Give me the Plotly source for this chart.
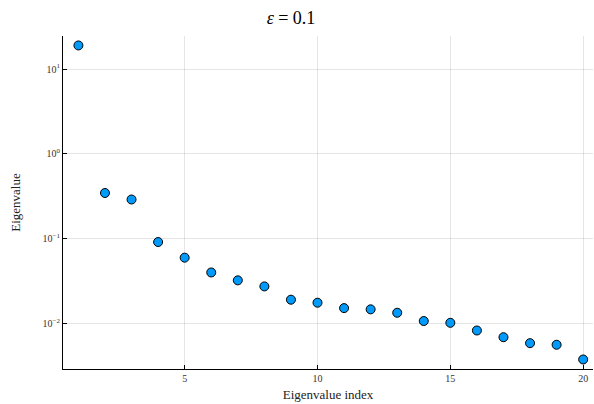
import plotly.graph_objects as go

idx = list(range(1, 21))
eigvals = [19.0, 0.346, 0.29, 0.0914, 0.0598, 0.0400, 0.0323, 0.0274, 0.0191, 0.0176,
           0.0152, 0.0147, 0.0134, 0.0107, 0.0102, 0.00828, 0.0069, 0.00587, 0.00562, 0.00377]
ytickvals = [0.01, 0.1, 1, 10]
yticktext = ["10<sup>−2</sup>", "10<sup>−1</sup>", "10<sup>0</sup>", "10<sup>1</sup>"]
xtickvals = [5, 10, 15, 20]

FONT = "Liberation Serif, DejaVu Serif, serif"

fig = go.Figure()
fig.add_trace(go.Scatter(
    x=idx, y=eigvals, mode="markers",
    marker=dict(size=9, color="#009AFA", line=dict(color="black", width=1)),
    showlegend=False, cliponaxis=False,
))

fig.update_layout(
    width=594, height=404,
    margin=dict(l=63, r=1, t=36, b=35),
    paper_bgcolor="white", plot_bgcolor="white",
    font=dict(family=FONT, color="#222"),
    title=dict(text="<i>ε</i> = 0.1", x=291/594, xref="container", xanchor="center",
               y=1 - 18/404, yref="container", yanchor="middle",
               font=dict(size=18, family="Liberation Serif", color="black")),
)
fig.update_xaxes(
    range=[0.42, 20.37], tickvals=xtickvals, ticks="inside", ticklen=4,
    tickcolor="black", showline=True, linecolor="black", linewidth=1,
    showgrid=True, gridcolor="rgba(0,0,0,0.1)", gridwidth=1, zeroline=False,
    tickfont=dict(size=10, family=FONT, color="#333"),
    title=dict(text="Eigenvalue index", font=dict(size=13, family=FONT, color="#222"), standoff=6),
)
fig.update_yaxes(
    type="log", range=[-2.536, 1.39], tickvals=ytickvals, ticktext=yticktext,
    ticks="inside", ticklen=4, tickcolor="black",
    showline=True, linecolor="black", linewidth=1,
    showgrid=True, gridcolor="rgba(0,0,0,0.1)", gridwidth=1, zeroline=False,
    tickfont=dict(size=10, family=FONT, color="#333"),
    title=dict(text="Eigenvalue", font=dict(size=13, family=FONT, color="#222"), standoff=18),
)

fig.write_html("out.html")
